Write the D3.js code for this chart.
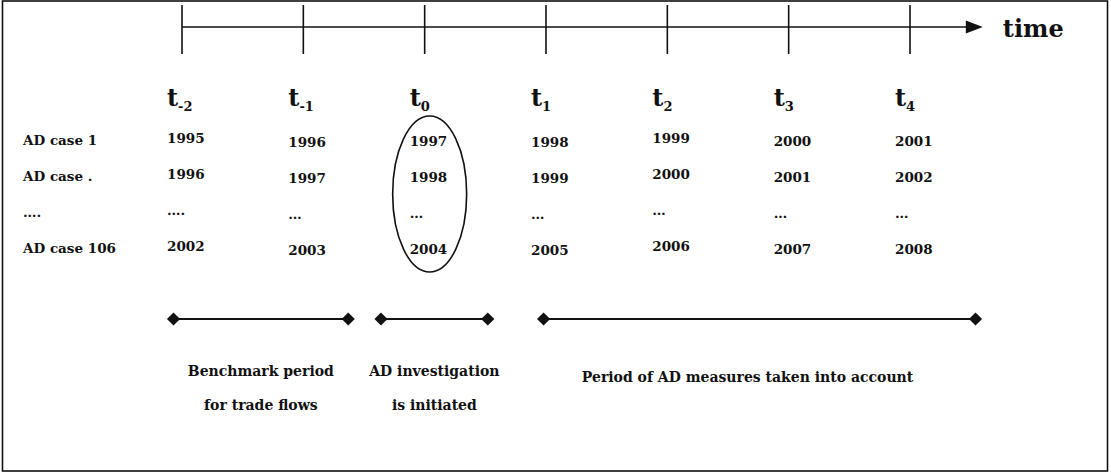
<!DOCTYPE html>
<html>
<head>
<meta charset="utf-8">
<script src="https://cdn.jsdelivr.net/npm/d3@7"></script>
<style>
  body { margin: 0; background: #fff; }
  text { font-family: "DejaVu Serif", serif; font-weight: bold; fill: #111; }
</style>
</head>
<body>
<svg></svg>
<script>
(function () {
  var width = 1111;
  var height = 473;

  // time periods relative to initiation of the AD investigation
  var periods = [-2, -1, 0, 1, 2, 3, 4];
  var periodSubs = ["-2", "-1", "0", "1", "2", "3", "4"];

  var cases = ["AD case 1", "AD case .", "\u2026.", "AD case 106"];
  var case1Years = ["1995", "1996", "1997", "1998", "1999", "2000", "2001"];
  var caseDotYears = ["1996", "1997", "1998", "1999", "2000", "2001", "2002"];
  var gapRow = ["\u2026.", "\u2026", "\u2026", "\u2026", "\u2026", "\u2026", "\u2026"];
  var case106Years = ["2002", "2003", "2004", "2005", "2006", "2007", "2008"];
  var rows = [case1Years, caseDotYears, gapRow, case106Years];

  // bracketed spans below the table (in period units)
  var spanStarts = [-2.07, -0.36, 0.98];
  var spanEnds = [-0.63, 0.52, 4.54];
  var spanLabels = [["Benchmark period", "for trade flows"],
                    ["AD investigation", "is initiated"],
                    ["Period of AD measures taken into account"]];
  var labelShift = [0, 0, -12];
  var axisEnd = 4.6;

  var svg = d3.select("svg")
        .attr("width", width)
        .attr("height", height);

  // frame
  svg.append("rect")
    .attr("x", 2.5).attr("y", 1)
    .attr("width", 1105).attr("height", 470)
    .attr("fill", "none")
    .attr("stroke", "#111")
    .attr("stroke-width", 1.6);

  var x = d3.scaleLinear()
        .domain([-2, 4])
        .range([182, 910]);

  var y = d3.scalePoint()
        .domain(cases)
        .range([145, 253]);

  // small baseline wobble of the original table columns
  var colShift = [-2, 2, 1, 2, -2, 1, 1];

  // time line
  var axisY = 27;
  svg.append("line")
    .attr("x1", x(-2)).attr("x2", x(axisEnd) - 10)
    .attr("y1", axisY).attr("y2", axisY)
    .attr("stroke", "#111").attr("stroke-width", 1.6);

  svg.append("path")
    .attr("d", "M" + (x(axisEnd) - 17) + "," + (axisY - 6.5) +
               "L" + x(axisEnd) + "," + axisY +
               "L" + (x(axisEnd) - 17) + "," + (axisY + 6.5) + "Z")
    .attr("fill", "#111");

  svg.append("text")
    .attr("x", x(axisEnd) + 20)
    .attr("y", axisY + 10)
    .style("font-size", "24px")
    .text("time");

  svg.selectAll(".tick")
    .data(periods)
    .enter().append("line")
    .attr("class", "tick")
    .attr("x1", function(d) { return x(d); })
    .attr("x2", function(d) { return x(d); })
    .attr("y1", 5).attr("y2", 54)
    .attr("stroke", "#111").attr("stroke-width", 1.6);

  // t labels with subscripts
  var tl = svg.selectAll(".tlabel")
        .data(periods)
        .enter().append("text")
        .attr("class", "tlabel")
        .attr("x", function(d) { return x(d) - 15; })
        .attr("y", 106)
        .style("font-size", "24px");
  tl.append("tspan").text("t");
  tl.append("tspan")
    .attr("dy", 5)
    .style("font-size", "13px")
    .text(function(d, i) { return periodSubs[i]; });

  // row labels
  svg.selectAll(".case")
    .data(cases)
    .enter().append("text")
    .attr("class", "case")
    .attr("x", 23)
    .attr("y", function(d) { return y(d); })
    .style("font-size", "13.5px")
    .text(function(d) { return d; });

  // year cells
  rows.forEach(function(row, r) {
    svg.selectAll(".cell" + r)
      .data(row)
      .enter().append("text")
      .attr("class", "cell" + r)
      .attr("x", function(d, i) { return x(periods[i]) - 15; })
      .attr("y", function(d, i) { return y(cases[r]) + colShift[i]; })
      .style("font-size", "13.5px")
      .text(function(d) { return d; });
  });

  // ellipse round the t0 column
  svg.append("ellipse")
    .attr("cx", x(0) + 5)
    .attr("cy", (y(cases[0]) + y(cases[3])) / 2 - 5)
    .attr("rx", 37)
    .attr("ry", 78)
    .attr("fill", "none")
    .attr("stroke", "#111")
    .attr("stroke-width", 1.6);

  // spans with diamond ends
  var spanY = 319;
  var diamond = d3.symbol().type(d3.symbolDiamond2).size(110);
  spanStarts.forEach(function(s, i) {
    var g = svg.append("g");
    g.append("line")
      .attr("x1", x(s)).attr("x2", x(spanEnds[i]))
      .attr("y1", spanY).attr("y2", spanY)
      .attr("stroke", "#111").attr("stroke-width", 2);
    [s, spanEnds[i]].forEach(function(v) {
      g.append("path")
        .attr("d", diamond())
        .attr("transform", "translate(" + x(v) + "," + spanY + ")")
        .attr("fill", "#111");
    });
    var cx = (x(s) + x(spanEnds[i])) / 2 + labelShift[i];
    spanLabels[i].forEach(function(line, k) {
      g.append("text")
        .attr("x", cx)
        .attr("y", spanLabels[i].length > 1 ? 376 + k * 34 : 382)
        .attr("text-anchor", "middle")
        .style("font-size", "14px")
        .text(line);
    });
  });
})();
</script>
</body>
</html>
